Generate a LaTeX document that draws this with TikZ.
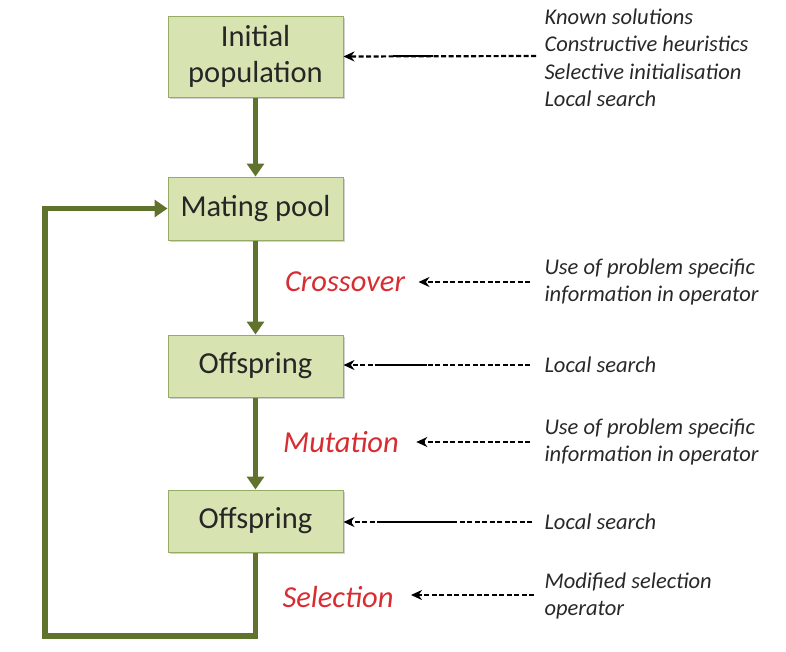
\documentclass[tikz,border=0pt]{standalone}
\usepackage{fontspec}
\setmainfont{Carlito}
\usetikzlibrary{arrows.meta,calc,shadows}
\definecolor{boxfill}{RGB}{215,228,178}
\definecolor{boxline}{RGB}{150,172,100}
\definecolor{flowgreen}{RGB}{95,115,45}
\definecolor{oplabel}{RGB}{215,45,50}
\definecolor{notetext}{RGB}{40,40,40}
\tikzset{
  stagebox/.style={draw=boxline, line width=1pt, fill=boxfill, minimum width=175pt,
    align=center, font=\fontsize{30.5}{33}\selectfont, text=black!85,
    drop shadow={shadow xshift=1.5pt, shadow yshift=-1.5pt, fill=black!35, opacity=0.5}},
  flow/.style={draw=flowgreen, line width=5.5pt, -{Triangle[width=17pt,length=13pt]}},
  loopline/.style={flow, line join=miter},
  oplbl/.style={font=\fontsize{30.5}{33}\selectfont\itshape, text=oplabel},
  note/.style={font=\fontsize{22.5}{27.5}\selectfont\itshape, text=notetext, align=left, anchor=west},
  hint/.style={draw=black, line width=2.2pt, dash pattern=on 5pt off 2.5pt, -{Stealth[length=11pt,width=10pt]}},
  solidpart/.style={draw=black, line width=2.2pt},
}
\begin{document}
\begin{tikzpicture}[x=1pt,y=-1pt]
\useasboundingbox (0,0) rectangle (786,651);
% stages
\node[stagebox, minimum height=81pt] (init) at (255.5,56.5) {Initial\\[3pt]population};
\node[stagebox, minimum height=63pt] (mate) at (255.5,208.5) {Mating pool};
\node[stagebox, minimum height=62pt] (offa) at (255.5,366) {Offspring};
\node[stagebox, minimum height=62pt] (offb) at (255.5,521) {Offspring};
% operator labels
\node[oplbl] (cross) at (345,282) {Crossover};
\node[oplbl] (mut) at (341,442) {Mutation};
\node[oplbl] (sel) at (338,597) {Selection};
% notes
\node[note] (known) at (541,58) {Known solutions\\Constructive heuristics\\Selective initialisation\\Local search};
\node[note] (usea) at (541,282) {Use of problem specific\\information in operator};
\node[note] (lsa) at (541,365) {Local search};
\node[note] (useb) at (541,442) {Use of problem specific\\information in operator};
\node[note] (lsb) at (541,522) {Local search};
\node[note] (modsel) at (541,596) {Modified selection\\operator};
% main flow
\draw[flow] (init) -- (mate);
\draw[flow] (mate) -- (offa);
\draw[flow] (offa) -- (offb);
\coordinate (lc) at (45,636);
\draw[loopline] (offb.south) |- (lc) |- (mate.west);
% hint arrows
\coordinate (k1) at (536,56);
\draw[hint] (k1) -- (init.east);
\draw[solidpart] (393,56) -- (433,56);
\coordinate (c1) at (530,282);
\draw[hint, shorten >=10pt] (c1) -- (cross.east);
\coordinate (l1) at (530,365);
\draw[hint] (l1) -- (offa.east |- l1);
\draw[solidpart] (377,365) -- (427,365);
\coordinate (m1) at (530,442);
\draw[hint, shorten >=14pt] (m1) -- (mut.east |- m1);
\coordinate (l2) at (532,522);
\draw[hint] (l2) -- (offb.east |- l2);
\draw[solidpart] (380,522) -- (455,522);
\coordinate (s1) at (534,595);
\draw[hint, shorten >=14pt] (s1) -- (sel.east |- s1);
\end{tikzpicture}
\end{document}
